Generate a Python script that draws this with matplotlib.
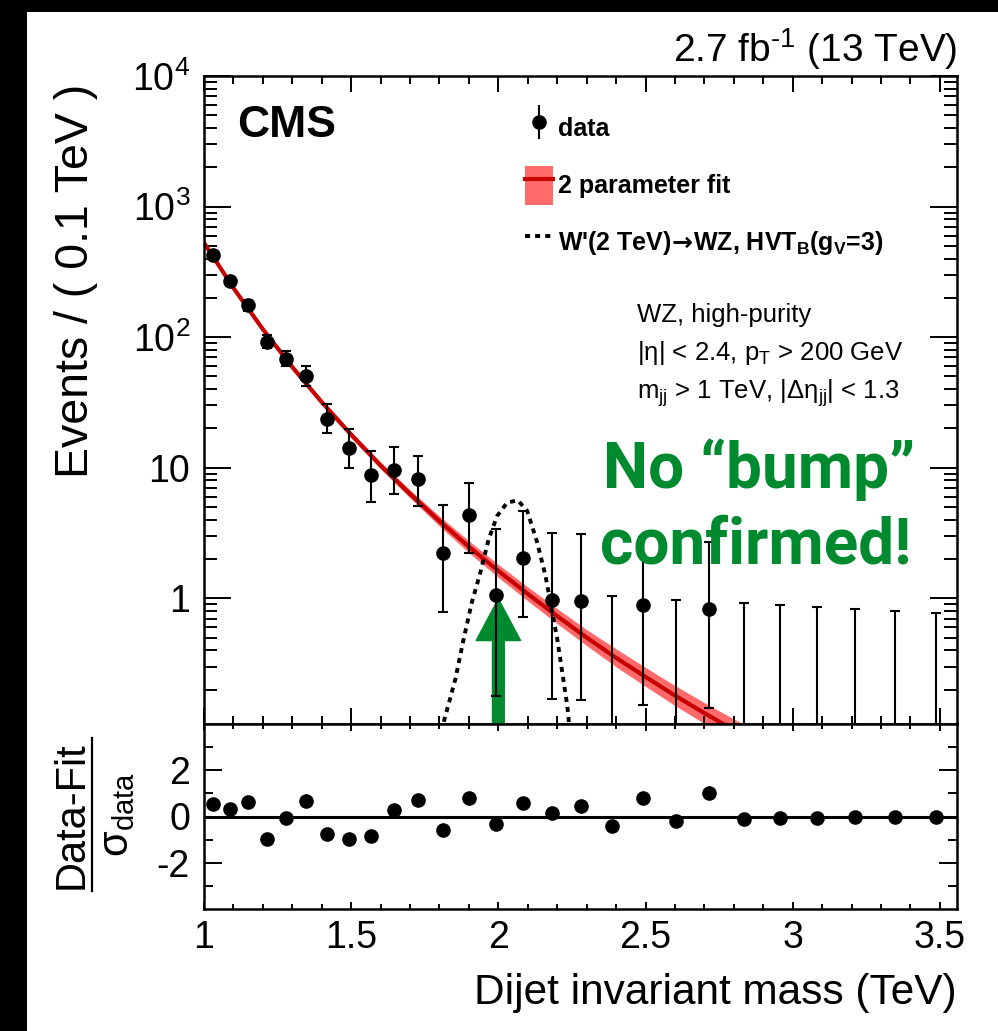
import numpy as np
import matplotlib
matplotlib.use('Agg')
import matplotlib.pyplot as plt
from matplotlib.lines import Line2D
from matplotlib.patches import Patch, Rectangle
from matplotlib.legend_handler import HandlerTuple
from matplotlib.ticker import MultipleLocator, FixedLocator, FuncFormatter, NullFormatter

plt.rcParams['font.family'] = ['Liberation Sans', 'DejaVu Sans']
plt.rcParams['mathtext.fontset'] = 'custom'
# math symbols (the legend arrow) come from the rm font
plt.rcParams['mathtext.rm'] = 'DejaVu Sans:bold'
plt.rcParams['mathtext.it'] = 'Liberation Sans:italic'
plt.rcParams['mathtext.bf'] = 'Liberation Sans:bold'

# dijet mass bins (TeV)
bin_edges = [1.000, 1.058, 1.118, 1.181, 1.246, 1.313, 1.383, 1.455, 1.530,
             1.607, 1.687, 1.770, 1.856, 1.945, 2.037, 2.132, 2.231, 2.332,
             2.438, 2.546, 2.659, 2.775, 2.895, 3.019, 3.147, 3.279, 3.416,
             3.558]

# events / 0.1 TeV (0 = empty bin), with lower / upper ends of error bars
events = [428, 268, 177, 92.5, 68, 50, 23.7, 14.1, 8.75, 9.6, 8.15, 2.24,
          4.33, 1.06, 2.02, 0.97, 0.95, 0, 0.89, 0, 0.83, 0, 0, 0, 0, 0, 0]
err_low = [400, 247, 160, 82, 60, 42, 18.3, 9.9, 5.5, 6.3, 5.1, 0.79,
           2.24, 0.18, 0.72, 0.168, 0.165, 0, 0.153, 0, 0.144, 0, 0, 0, 0, 0, 0]
err_high = [456, 290, 194, 103, 79, 60, 31, 19.7, 13.4, 14.3, 12.4, 5.2,
            7.7, 3.42, 4.67, 3.19, 3.1, 1.05, 2.94, 0.97, 2.72, 0.92, 0.89,
            0.86, 0.83, 0.80, 0.77]

# (data - fit) / sigma
pulls = [0.52, 0.31, 0.62, -0.96, -0.06, 0.65, -0.77, -0.96, -0.86, 0.26,
         0.73, -0.60, 0.80, -0.34, 0.59, 0.14, 0.46, -0.40, 0.82, -0.20,
         1.00, -0.10, -0.07, -0.06, -0.04, -0.03, -0.03]

# 2 parameter fit and its uncertainty band (relative half width)
fit_x = [1.0, 1.1, 1.2, 1.3, 1.4, 1.5, 1.6, 1.7, 1.8, 1.9, 2.0, 2.1, 2.2,
         2.3, 2.4, 2.5, 2.6, 2.7, 2.8, 2.9]
fit_y = [528, 238, 115, 59, 31.8, 17.9, 10.4, 6.3, 3.9, 2.48, 1.62, 1.08,
         0.73, 0.50, 0.35, 0.25, 0.18, 0.132, 0.098, 0.073]
band_frac = [0.036, 0.036, 0.036, 0.045, 0.045, 0.054, 0.063, 0.073, 0.092,
             0.111, 0.121, 0.131, 0.141, 0.151, 0.172, 0.182, 0.192, 0.203,
             0.214, 0.22]

# W'(2 TeV) signal shape
sig_x = [1.800, 1.814, 1.854, 1.882, 1.910, 1.939, 1.967, 1.996, 2.030,
         2.066, 2.098, 2.132, 2.160, 2.183, 2.200, 2.217, 2.234, 2.239, 2.245]
sig_y = [0.08, 0.112, 0.241, 0.488, 0.93, 1.58, 2.84, 4.28, 5.41, 5.63,
         4.67, 2.67, 1.49, 0.78, 0.488, 0.271, 0.151, 0.116, 0.08]

green = '#008a30'
band_color = '#ff6b6b'
fit_color = '#c80000'
W, H = 998, 1031


def fx(px):
    return px / W


def fy(py):
    return 1 - py / H


edges = np.array(bin_edges)
centers = 0.5 * (edges[1:] + edges[:-1])
events = np.array(events, dtype=float)
err_low = np.array(err_low)
err_high = np.array(err_high)
filled = events > 0
floor = 1e-3

fig = plt.figure(figsize=(W / 100, H / 100), dpi=100, facecolor='black')
fig.patches.append(Rectangle((fx(27), 0), 1, fy(12), transform=fig.transFigure,
                             facecolor='white', edgecolor='none', zorder=-10))

ax1 = fig.add_axes([fx(204), fy(724), fx(957) - fx(204), fy(76) - fy(724)])
ax2 = fig.add_axes([fx(204), fy(909), fx(957) - fx(204), fy(724) - fy(909)],
                   sharex=ax1)

# top panel
fit_y = np.array(fit_y)
band_frac = np.array(band_frac)
ax1.fill_between(fit_x, fit_y / (1 + band_frac), fit_y * (1 + band_frac),
                 color=band_color, lw=0, zorder=1)
ax1.plot(fit_x, fit_y, color=fit_color, lw=3, zorder=2)
ax1.plot(sig_x, sig_y, color='black', lw=2.8, ls=(0, (1.3, 1.3)), zorder=3)

ax1.errorbar(centers[filled], events[filled],
             yerr=[events[filled] - err_low[filled],
                   err_high[filled] - events[filled]],
             fmt='o', color='black', ms=9.5, elinewidth=1.5, capsize=3.5,
             capthick=1.5, zorder=5)
empty = ~filled
ax1.errorbar(centers[empty], err_high[empty],
             yerr=[err_high[empty] - floor, np.zeros(empty.sum())],
             fmt='none', ecolor='black', elinewidth=1.5, capsize=3.5,
             capthick=1.5, zorder=5)

ylo = 0.109
ax1.annotate('', xy=(2.0, 0.99), xytext=(2.0, ylo),
             arrowprops=dict(arrowstyle='simple,head_length=30,head_width=32,tail_width=8.5',
                             mutation_scale=1, color=green, shrinkA=0, shrinkB=0),
             zorder=4)

ax1.set_yscale('log')
ax1.set_ylim(ylo, 1e4)
ax1.set_xlim(1.0, 3.558)


def log_label(v, pos):
    e = int(round(np.log10(v)))
    if e == 0:
        return '1'
    if e == 1:
        return '10'
    return r'$\mathregular{10^{%d}}$' % e


ax1.yaxis.set_major_locator(FixedLocator([1, 10, 100, 1000, 10000]))
ax1.yaxis.set_major_formatter(FuncFormatter(log_label))
minors = [m * 10.0 ** d for d in range(-1, 4) for m in range(2, 10)]
ax1.yaxis.set_minor_locator(FixedLocator(minors))
ax1.yaxis.set_minor_formatter(NullFormatter())

ax1.xaxis.set_major_locator(MultipleLocator(0.5))
ax1.xaxis.set_minor_locator(MultipleLocator(0.1))
ax1.tick_params(which='both', direction='in', top=True, right=True,
                labelbottom=False, width=1.4, labelsize=27, pad=10)
ax1.tick_params(axis='y', which='major', length=19.5)
ax1.tick_params(axis='y', which='minor', length=9.5)
ax1.tick_params(axis='x', which='major', length=11.5)
ax1.tick_params(axis='x', which='minor', length=6)

# legend
handles = [
    (Line2D([], [], ls='none', marker='|', ms=24, mew=1.5, color='black'),
     Line2D([], [], ls='none', marker='o', ms=9.5, color='black')),
    (Patch(facecolor=band_color, edgecolor='none'),
     Line2D([], [], color=fit_color, lw=3)),
    Line2D([], [], color='black', lw=2.8, ls=(0, (1.3, 1.3))),
]
labels = ['data', '2 parameter fit',
          r"W'(2 TeV)$\!\rightarrow\!$WZ, HVT$_\mathregular{B}$(g$_\mathregular{V}$=3)"]
ax1.legend(handles, labels, handler_map={tuple: HandlerTuple()},
           loc='upper left', bbox_to_anchor=(0.426, 0.9494), frameon=False,
           prop={'weight': 'bold', 'size': 18}, handlelength=1.12,
           handleheight=2.02, handletextpad=0.2, labelspacing=0.72,
           borderpad=0, borderaxespad=0, numpoints=1)

# bottom panel
ax2.axhline(0, color='black', lw=2.2, zorder=1)
ax2.plot(centers, pulls, 'o', color='black', ms=9.5, zorder=2)
ax2.set_ylim(-4, 4)
ax2.yaxis.set_major_locator(FixedLocator([-2, 0, 2]))
ax2.yaxis.set_minor_locator(FixedLocator([-3, -1, 1, 3]))
ax2.yaxis.set_major_formatter(FuncFormatter(lambda v, p: '%d' % v))
ax2.xaxis.set_major_formatter(FuncFormatter(lambda v, p: '%g' % v))
ax2.tick_params(which='both', direction='in', top=True, right=True,
                width=1.4, labelsize=27)
ax2.tick_params(axis='y', pad=10)
ax2.tick_params(axis='x', pad=8)
ax2.tick_params(axis='y', which='major', length=13)
ax2.tick_params(axis='y', which='minor', length=6.5)
ax2.tick_params(axis='x', which='major', length=5)
ax2.tick_params(axis='x', which='minor', length=3.6)

for ax in (ax1, ax2):
    for s in ax.spines.values():
        s.set_linewidth(1.8)

# labels and annotations
fig.text(fx(76), fy(281), 'Events / ( 0.1 TeV )', rotation=90, ha='center',
         va='center', size=33.5)
fig.text(fx(957), fy(1004), 'Dijet invariant mass (TeV)', ha='right',
         va='baseline', size=30.5)
fig.text(fx(72), fy(815), 'Data-Fit', rotation=90, ha='center', va='center',
         size=30)
fig.add_artist(Line2D([fx(92), fx(92)], [fy(738), fy(891)], color='black',
                      lw=1.6, transform=fig.transFigure))
fig.text(fx(117), fy(815), r'σ$_\mathregular{data}$', rotation=90,
         ha='center', va='center', size=30)

fig.text(fx(957), fy(62), r'2.7 fb$^\mathregular{‐1}$ (13 TeV)', ha='right',
         va='baseline', size=28)
fig.text(fx(237), fy(137), 'CMS', ha='left', va='baseline', size=32,
         weight='bold')
fig.text(fx(637), fy(322), 'WZ, high-purity', ha='left', va='baseline',
         size=18.5)
fig.text(fx(637), fy(360), r'|η| < 2.4, p$_\mathregular{T}$ > 200 GeV',
         ha='left', va='baseline', size=18.5)
fig.text(fx(637), fy(399),
         r'm$_\mathregular{jj}$ > 1 TeV, |Δη$_\mathregular{jj}$| < 1.3',
         ha='left', va='baseline', size=18.5)

fig.text(fx(915), fy(488), 'No “bump”', ha='right', va='baseline', size=46,
         weight='bold', color=green, family=['Roboto', 'DejaVu Sans'])
fig.text(fx(912), fy(563), 'confirmed!', ha='right', va='baseline', size=46,
         weight='bold', color=green, family=['Roboto', 'DejaVu Sans'])

fig.savefig('out.png', dpi=100, facecolor='black')
